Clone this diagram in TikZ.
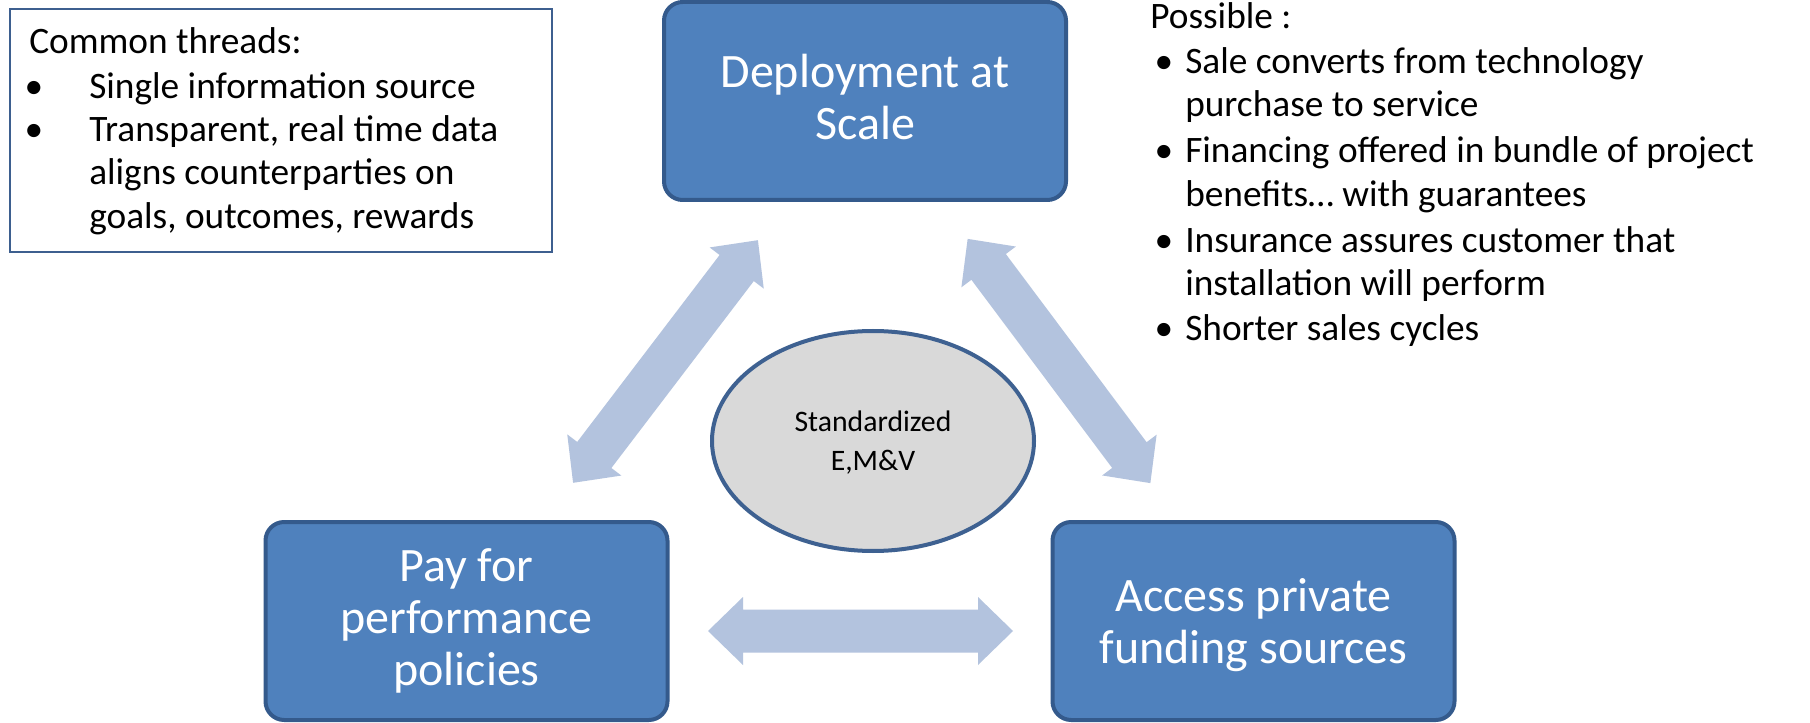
\documentclass[tikz,border=0pt]{standalone}
\usepackage{fontspec}
\setmainfont{Carlito}
\usetikzlibrary{shapes.geometric}

\definecolor{boxfill}{HTML}{4F81BD}
\definecolor{boxline}{HTML}{345A8C}
\definecolor{arrowfill}{HTML}{B3C3DE}
\definecolor{ovalfill}{HTML}{D9D9D9}
\definecolor{ovalline}{HTML}{3E6191}
\definecolor{noteline}{HTML}{3D5F8F}

\begin{document}
\begin{tikzpicture}[x=0.75pt,y=-0.75pt,
  stagebox/.style={draw=boxline, fill=boxfill, line width=3pt,
    rounded corners=14pt, minimum width=301.5pt, minimum height=148.5pt,
    inner sep=0pt, align=center, text=white,
    font=\fontsize{36}{39}\selectfont},
  notebox/.style={draw=noteline, line width=1.2pt, minimum width=406.5pt,
    minimum height=182.25pt, inner sep=0pt},
  oval/.style={ellipse, draw=ovalline, fill=ovalfill, line width=3pt,
    minimum width=241.5pt, minimum height=165pt, inner sep=0pt,
    align=center, font=\fontsize{22.3}{26.25}\selectfont},
  noteline/.style={anchor=base west, inner sep=0pt,
    font=\fontsize{28}{33}\selectfont},
  notebullet/.style={anchor=base, inner sep=0pt,
    font=\fontsize{28}{33}\selectfont},
  linkarrow/.style={fill=arrowfill}
]
% page
\path[use as bounding box, fill=white] (0,0) rectangle (1810,723);

% link arrows between the three stages
\fill[linkarrow, shift={(665.5,361.5)}, rotate=52.7]
  (-152.5,0) -- (-117.5,-34) -- (-117.5,-21.5) -- (117.5,-21.5) -- (117.5,-34)
  -- (152.5,0) -- (117.5,34) -- (117.5,21.5) -- (-117.5,21.5) -- (-117.5,34) -- cycle;
\fill[linkarrow, shift={(1059,361)}, rotate=-53.2]
  (-152.5,0) -- (-117.5,-34) -- (-117.5,-21.5) -- (117.5,-21.5) -- (117.5,-34)
  -- (152.5,0) -- (117.5,34) -- (117.5,21.5) -- (-117.5,21.5) -- (-117.5,34) -- cycle;
\fill[linkarrow, shift={(860.5,631)}]
  (-152.5,0) -- (-117.5,-34) -- (-117.5,-21.5) -- (117.5,-21.5) -- (117.5,-34)
  -- (152.5,0) -- (117.5,34) -- (117.5,21.5) -- (-117.5,21.5) -- (-117.5,34) -- cycle;

% stages
\node[stagebox, text depth=6pt] (deploy) at (865,101) {Deployment at\\Scale};
\node[stagebox] (pay) at (466.5,621) {Pay for\\performance\\policies};
\node[stagebox, text depth=0pt] (funding) at (1253.5,621) {Access private\\funding sources};

% centre
\node[oval, text depth=0pt] (emv) at (873,441) {Standardized\\[3pt]E,M\&V};

% common threads note
\node[notebox] (threads) at (281,130.5) {};
\node[noteline] (th0) at (29,54) {Common threads:};
\node[notebullet] (thb1) at (34,99) {•};
\node[noteline] (th1) at (89,99) {Single information source};
\node[notebullet] (thb2) at (34,142) {•};
\node[noteline] (th2) at (89,142) {Transparent, real time data};
\node[noteline] (th3) at (89,185) {aligns counterparties on};
\node[noteline] (th4) at (89,229) {goals, outcomes, rewards};

% possible outcomes list
\node[noteline] (ps0) at (1150,29) {Possible :};
\node[notebullet] (psb1) at (1164,74) {•};
\node[noteline] (ps1) at (1185,74) {Sale converts from technology};
\node[noteline] (ps2) at (1185,117) {purchase to service};
\node[notebullet] (psb2) at (1164,163) {•};
\node[noteline] (ps3) at (1185,163) {Financing offered in bundle of project};
\node[noteline] (ps4) at (1185,207) {benefits… with guarantees};
\node[notebullet] (psb3) at (1164,253) {•};
\node[noteline] (ps5) at (1185,253) {Insurance assures customer that};
\node[noteline] (ps6) at (1185,296) {installation will perform};
\node[notebullet] (psb4) at (1164,341) {•};
\node[noteline] (ps7) at (1185,341) {Shorter sales cycles};
\end{tikzpicture}
\end{document}
